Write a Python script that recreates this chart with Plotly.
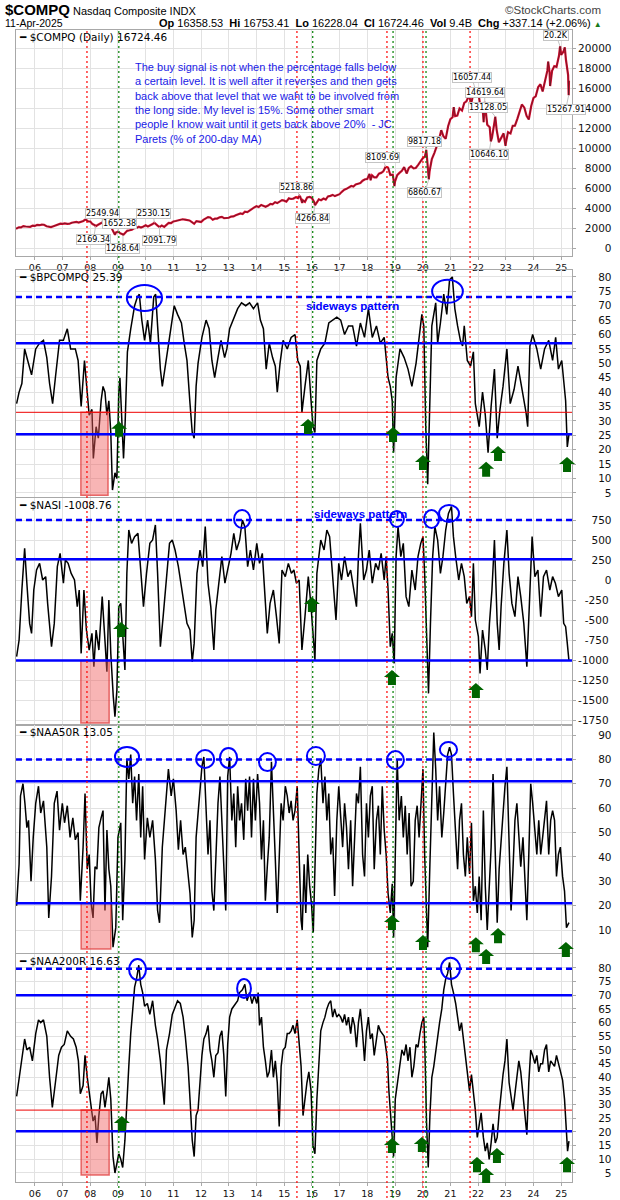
import plotly.graph_objects as go

# ---------------- data ----------------
compq_t = [2005.32, 2005.42, 2005.5, 2005.58, 2005.67, 2005.75, 2005.83, 2005.92,
           2006.0, 2006.08, 2006.17, 2006.25, 2006.33, 2006.42, 2006.5, 2006.58, 2006.67, 2006.75, 2006.83, 2006.92,
           2007.0, 2007.08, 2007.17, 2007.25, 2007.33, 2007.42, 2007.5, 2007.58, 2007.67, 2007.75, 2007.83, 2007.92,
           2008.0, 2008.08, 2008.17, 2008.19, 2008.25, 2008.33, 2008.43, 2008.5, 2008.58, 2008.67, 2008.75, 2008.83, 2008.89, 2008.92,
           2009.0, 2009.01, 2009.08, 2009.17, 2009.18, 2009.25, 2009.33, 2009.42, 2009.5, 2009.58, 2009.67, 2009.75, 2009.83, 2009.92,
           2010.0, 2010.08, 2010.17, 2010.25, 2010.31, 2010.33, 2010.42, 2010.5, 2010.58, 2010.67, 2010.75, 2010.83, 2010.92,
           2011.0, 2011.08, 2011.17, 2011.25, 2011.33, 2011.42, 2011.5, 2011.58, 2011.67, 2011.75, 2011.83, 2011.92,
           2012.0, 2012.08, 2012.17, 2012.25, 2012.33, 2012.42, 2012.5, 2012.58, 2012.67, 2012.75, 2012.83, 2012.92,
           2013.0, 2013.08, 2013.17, 2013.25, 2013.33, 2013.42, 2013.5, 2013.58, 2013.67, 2013.75, 2013.83, 2013.92,
           2014.0, 2014.08, 2014.17, 2014.25, 2014.33, 2014.42, 2014.5, 2014.58, 2014.67, 2014.75, 2014.83, 2014.92,
           2015.0, 2015.08, 2015.17, 2015.25, 2015.33, 2015.42, 2015.5, 2015.55, 2015.58, 2015.65, 2015.67, 2015.75, 2015.83, 2015.92,
           2016.0, 2016.08, 2016.11, 2016.17, 2016.25, 2016.33, 2016.42, 2016.5, 2016.58, 2016.67, 2016.75, 2016.83, 2016.92,
           2017.0, 2017.08, 2017.17, 2017.25, 2017.33, 2017.42, 2017.5, 2017.58, 2017.67, 2017.75, 2017.83, 2017.92,
           2018.0, 2018.08, 2018.12, 2018.17, 2018.25, 2018.33, 2018.42, 2018.5, 2018.58, 2018.66, 2018.75, 2018.83, 2018.92, 2018.98,
           2019.0, 2019.08, 2019.17, 2019.25, 2019.33, 2019.42, 2019.5, 2019.58, 2019.67, 2019.75, 2019.83, 2019.92,
           2020.0, 2020.08, 2020.13, 2020.17, 2020.22, 2020.25, 2020.33, 2020.42, 2020.5, 2020.58, 2020.67, 2020.75, 2020.83, 2020.92,
           2021.0, 2021.08, 2021.12, 2021.17, 2021.25, 2021.33, 2021.42, 2021.5, 2021.58, 2021.67, 2021.75, 2021.83, 2021.88, 2021.92,
           2022.0, 2022.08, 2022.17, 2022.2, 2022.24, 2022.33, 2022.42, 2022.46, 2022.5, 2022.58, 2022.62, 2022.67, 2022.75, 2022.83, 2022.92, 2022.99,
           2023.0, 2023.08, 2023.17, 2023.25, 2023.33, 2023.42, 2023.5, 2023.58, 2023.67, 2023.75, 2023.83, 2023.92,
           2024.0, 2024.08, 2024.17, 2024.25, 2024.33, 2024.42, 2024.5, 2024.53, 2024.58, 2024.6, 2024.67, 2024.75, 2024.83, 2024.92, 2024.96,
           2025.0, 2025.08, 2025.13, 2025.17, 2025.25, 2025.27, 2025.28]
compq_v = [1920, 2068, 2057, 2185, 2152, 2152, 2120, 2233,
           2205, 2306, 2281, 2340, 2323, 2179, 2172, 2091, 2184, 2258, 2367, 2432,
           2415, 2464, 2416, 2422, 2525, 2605, 2603, 2546, 2596, 2701, 2859, 2661,
           2652, 2389, 2271, 2169, 2279, 2413, 2550, 2293, 2326, 2368, 2092, 1721, 1316, 1536,
           1577, 1652, 1476, 1378, 1269, 1529, 1717, 1774, 1835, 1979, 2009, 2122, 2045, 2145,
           2269, 2147, 2238, 2398, 2530, 2461, 2257, 2092, 2255, 2114, 2368, 2507, 2498,
           2653, 2700, 2782, 2781, 2874, 2835, 2774, 2756, 2579, 2415, 2684, 2620,
           2605, 2814, 2967, 3092, 3046, 2827, 2935, 2940, 3067, 3116, 2977, 3010,
           3020, 3142, 3160, 3268, 3329, 3456, 3403, 3626, 3590, 3771, 3920, 4060,
           4177, 4104, 4308, 4199, 4115, 4243, 4408, 4370, 4580, 4493, 4631, 4792,
           4736, 4635, 4964, 4901, 4941, 5070, 4987, 5219, 5128, 4506, 4777, 4620, 5054, 5109,
           5007, 4614, 4267, 4558, 4870, 4775, 4948, 4843, 5162, 5213, 5312, 5189, 5324,
           5383, 5615, 5825, 5912, 6048, 6199, 6140, 6348, 6429, 6496, 6728, 6874,
           6903, 7411, 6777, 7273, 7063, 7066, 7442, 7510, 7672, 8110, 8046, 7306, 7331, 6192,
           6635, 7282, 7533, 7729, 8095, 7453, 8006, 8175, 7963, 7999, 8292, 8665,
           8973, 9151, 9817, 8567, 6861, 7700, 8890, 9490, 10058, 10745, 11775, 11168, 10912, 12199,
           12888, 13071, 14095, 13192, 13247, 13962, 13749, 14504, 14673, 15259, 14449, 15498, 16057, 15538,
           15645, 14240, 13751, 12581, 14620, 12335, 12081, 10646, 11029, 12391, 13128, 11816, 10576, 10988, 11468, 10213,
           10466, 11585, 11456, 12222, 12227, 12935, 13788, 14346, 14035, 13219, 12851, 14226,
           15011, 15164, 16092, 16379, 15658, 16735, 17733, 18647, 17599, 16200, 17714, 18189, 18095, 19218, 20174,
           19311, 19627, 20056, 18847, 17299, 15268, 16724.46]

bp_t = [2005.34, 2005.43, 2005.53, 2005.63, 2005.74, 2005.88, 2006.03, 2006.17, 2006.31, 2006.43, 2006.53, 2006.64,
        2006.74, 2006.89, 2007.03, 2007.17, 2007.29, 2007.46, 2007.56, 2007.67, 2007.79, 2007.86, 2007.96, 2008.06,
        2008.11, 2008.21, 2008.29, 2008.39, 2008.46, 2008.53, 2008.60, 2008.67, 2008.74, 2008.80, 2008.89, 2008.96,
        2009.03, 2009.07, 2009.13, 2009.20, 2009.26, 2009.34, 2009.46, 2009.60, 2009.70, 2009.77, 2009.86, 2009.96,
        2010.07, 2010.17, 2010.29, 2010.36, 2010.43, 2010.53, 2010.60, 2010.72, 2010.82, 2010.92, 2011.03, 2011.15,
        2011.29, 2011.39, 2011.49, 2011.60, 2011.68, 2011.75, 2011.82, 2011.89, 2012.03, 2012.18, 2012.29, 2012.39,
        2012.49, 2012.61, 2012.72, 2012.85, 2012.93, 2013.03, 2013.18, 2013.32, 2013.46, 2013.61, 2013.75, 2013.89,
        2014.04, 2014.14, 2014.25, 2014.35, 2014.46, 2014.58, 2014.68, 2014.75, 2014.85, 2014.96, 2015.11, 2015.25,
        2015.39, 2015.49, 2015.58, 2015.64, 2015.75, 2015.87, 2015.97, 2016.04, 2016.11, 2016.18, 2016.32, 2016.47,
        2016.61, 2016.75, 2016.90, 2017.04, 2017.18, 2017.32, 2017.47, 2017.61, 2017.75, 2017.90, 2018.04, 2018.18,
        2018.33, 2018.47, 2018.61, 2018.68, 2018.75, 2018.83, 2018.90, 2018.95, 2019.04, 2019.18, 2019.33, 2019.47,
        2019.61, 2019.76, 2019.87, 2019.97, 2020.04, 2020.11, 2020.18, 2020.26, 2020.33, 2020.47, 2020.54, 2020.64,
        2020.76, 2020.87, 2020.97, 2021.07, 2021.16, 2021.26, 2021.36, 2021.44, 2021.50, 2021.61, 2021.73, 2021.83,
        2021.90, 2022.04, 2022.16, 2022.26, 2022.36, 2022.47, 2022.59, 2022.69, 2022.79, 2022.90, 2023.04, 2023.16,
        2023.30, 2023.44, 2023.59, 2023.73, 2023.79, 2023.87, 2023.97, 2024.12, 2024.26, 2024.40, 2024.55, 2024.69,
        2024.80, 2024.90, 2025.02, 2025.09, 2025.16, 2025.22, 2025.28]
bp_v = [36, 40, 43, 55, 51, 46, 55, 57, 58, 52, 43, 36,
        45, 58, 58, 62, 55, 55, 51, 35, 51, 44, 32, 34,
        17, 28, 24, 37, 42, 40, 32, 37, 26, 6, 12, 10,
        40, 45, 30, 17, 30, 54, 62, 70, 73, 74, 65, 58,
        65, 57, 73, 74, 63, 48, 42, 50, 55, 63, 70, 67,
        64, 57, 51, 36, 26, 24, 42, 50, 59, 65, 62, 51,
        45, 52, 58, 52, 55, 62, 66, 69, 71, 70, 71, 69,
        71, 65, 62, 48, 57, 52, 49, 40, 50, 58, 55, 59,
        60, 51, 49, 33, 42, 51, 37, 28, 26, 51, 55, 57,
        64, 65, 66, 65, 60, 63, 63, 56, 64, 59, 69, 59,
        63, 57, 59, 52, 45, 42, 37, 19, 45, 55, 52, 48,
        42, 50, 59, 67, 63, 28, 8, 40, 63, 71, 57, 64,
        74, 67, 79, 80, 69, 63, 58, 56, 63, 51, 49, 54,
        36, 28, 40, 32, 19, 35, 48, 24, 34, 42, 55, 36,
        41, 49, 41, 33, 28, 56, 60, 55, 48, 55, 58, 51,
        59, 48, 51, 44, 37, 21, 25.39]

nasi_t = [2005.34, 2005.43, 2005.53, 2005.63, 2005.71, 2005.81, 2005.88, 2005.96, 2006.06, 2006.17, 2006.28, 2006.39,
          2006.46, 2006.53, 2006.60, 2006.70, 2006.81, 2006.91, 2007.03, 2007.10, 2007.20, 2007.31, 2007.43, 2007.53,
          2007.60, 2007.67, 2007.77, 2007.86, 2007.96, 2008.06, 2008.13, 2008.21, 2008.31, 2008.43, 2008.53, 2008.60,
          2008.67, 2008.74, 2008.83, 2008.89, 2008.96, 2009.03, 2009.10, 2009.17, 2009.25, 2009.32, 2009.39, 2009.49,
          2009.60, 2009.72, 2009.82, 2009.92, 2010.03, 2010.15, 2010.25, 2010.35, 2010.43, 2010.53, 2010.63, 2010.75,
          2010.86, 2010.96, 2011.06, 2011.18, 2011.29, 2011.39, 2011.49, 2011.60, 2011.68, 2011.75, 2011.85, 2011.96,
          2012.06, 2012.15, 2012.25, 2012.35, 2012.46, 2012.53, 2012.63, 2012.75, 2012.86, 2012.96, 2013.08, 2013.18,
          2013.28, 2013.39, 2013.49, 2013.58, 2013.68, 2013.78, 2013.89, 2014.01, 2014.11, 2014.21, 2014.29, 2014.39,
          2014.49, 2014.61, 2014.72, 2014.82, 2014.92, 2015.04, 2015.15, 2015.26, 2015.35, 2015.44, 2015.54, 2015.64,
          2015.75, 2015.87, 2015.97, 2016.04, 2016.11, 2016.18, 2016.32, 2016.44, 2016.54, 2016.64, 2016.75, 2016.87,
          2016.97, 2017.07, 2017.18, 2017.30, 2017.40, 2017.50, 2017.61, 2017.68, 2017.75, 2017.87, 2017.97, 2018.07,
          2018.18, 2018.30, 2018.40, 2018.50, 2018.61, 2018.68, 2018.75, 2018.83, 2018.90, 2018.97, 2019.04, 2019.11,
          2019.21, 2019.30, 2019.40, 2019.50, 2019.61, 2019.73, 2019.83, 2019.93, 2020.01, 2020.07, 2020.16, 2020.21,
          2020.28, 2020.36, 2020.44, 2020.54, 2020.64, 2020.73, 2020.83, 2020.93, 2021.04, 2021.11, 2021.19, 2021.30,
          2021.40, 2021.50, 2021.59, 2021.69, 2021.76, 2021.83, 2021.90, 2022.01, 2022.07, 2022.16, 2022.26, 2022.33,
          2022.41, 2022.50, 2022.59, 2022.69, 2022.76, 2022.83, 2022.93, 2023.04, 2023.12, 2023.22, 2023.33, 2023.44,
          2023.54, 2023.65, 2023.76, 2023.86, 2023.95, 2024.05, 2024.16, 2024.26, 2024.36, 2024.47, 2024.59, 2024.69,
          2024.79, 2024.90, 2025.02, 2025.09, 2025.16, 2025.22, 2025.28]
nasi_v = [-958, -750, -125, 396, -40, -542, -667, -125, 125, 208, 0, 42,
          -292, -542, -833, -542, 167, 333, -40, 250, 208, 83, 0, -333,
          -125, -917, -125, -625, -875, -667, -1083, -625, -875, -208, -750, -1146,
          -250, -917, -1458, -1708, -1375, -333, -292, -708, -1125, 83, 625, 458,
          542, 583, 83, -333, 83, 458, 500, 688, 83, -833, -458, 83,
          458, 500, 375, 167, -83, -292, -542, -625, -1021, -792, 83, 375,
          167, 667, -40, -333, -875, -375, -40, 292, -40, 125, 333, 583,
          375, 500, 750, 667, 167, 375, 125, 458, 208, 333, -125, -667,
          -292, -125, -458, -792, 125, 42, 208, 83, 125, -40, 0, -875,
          -458, 42, -333, -625, -1000, 83, 500, 375, 625, 542, 83, -500,
          208, 0, 292, 42, 125, -125, -333, 292, 708, 0, 125, 375,
          -40, 208, 125, 333, 0, 292, -125, -833, -667, -1042, 292, 667,
          292, 458, -208, -333, 125, -125, 292, 458, 542, 83, -958, -1417,
          -542, 292, 667, 500, 83, 292, 625, 833, 917, 542, 292, 0,
          208, 42, -292, -208, -458, 208, -500, -708, -1167, -625, -875, -1125,
          -542, -125, 500, -542, -875, -333, 208, 625, 83, -292, -458, 42,
          -208, -542, -1083, -125, 542, 42, 125, -458, 42, 125, -125, 42,
          -40, -208, -125, -542, -583, -792, -1008.76]

a50_t = [2005.34, 2005.43, 2005.48, 2005.57, 2005.64, 2005.71, 2005.77, 2005.86, 2005.94, 2006.03, 2006.13, 2006.21,
         2006.31, 2006.43, 2006.50, 2006.60, 2006.70, 2006.80, 2006.89, 2006.99, 2007.07, 2007.17, 2007.27, 2007.37,
         2007.46, 2007.56, 2007.64, 2007.74, 2007.81, 2007.89, 2007.96, 2008.03, 2008.10, 2008.17, 2008.24, 2008.31,
         2008.39, 2008.46, 2008.53, 2008.60, 2008.67, 2008.74, 2008.82, 2008.92, 2009.00, 2009.10, 2009.17, 2009.25,
         2009.32, 2009.39, 2009.46, 2009.53, 2009.60, 2009.67, 2009.75, 2009.82, 2009.89, 2009.96, 2010.06, 2010.15,
         2010.25, 2010.35, 2010.43, 2010.50, 2010.60, 2010.72, 2010.82, 2010.92, 2011.00, 2011.10, 2011.18, 2011.26,
         2011.35, 2011.43, 2011.53, 2011.60, 2011.68, 2011.75, 2011.82, 2011.89, 2011.96, 2012.03, 2012.10, 2012.18,
         2012.25, 2012.32, 2012.39, 2012.46, 2012.53, 2012.61, 2012.68, 2012.75, 2012.82, 2012.89, 2012.96, 2013.03,
         2013.11, 2013.18, 2013.25, 2013.32, 2013.39, 2013.46, 2013.54, 2013.61, 2013.68, 2013.75, 2013.82, 2013.89,
         2013.96, 2014.04, 2014.11, 2014.18, 2014.25, 2014.32, 2014.39, 2014.46, 2014.54, 2014.61, 2014.68, 2014.75,
         2014.82, 2014.89, 2014.96, 2015.04, 2015.11, 2015.18, 2015.25, 2015.32, 2015.39, 2015.47, 2015.54, 2015.61,
         2015.65, 2015.72, 2015.78, 2015.85, 2015.92, 2015.99, 2016.05, 2016.11, 2016.18, 2016.25, 2016.32, 2016.40,
         2016.47, 2016.54, 2016.61, 2016.68, 2016.75, 2016.82, 2016.90, 2016.97, 2017.04, 2017.11, 2017.18, 2017.25,
         2017.32, 2017.40, 2017.47, 2017.54, 2017.61, 2017.68, 2017.75, 2017.83, 2017.90, 2017.97, 2018.04, 2018.11,
         2018.18, 2018.25, 2018.33, 2018.40, 2018.47, 2018.54, 2018.61, 2018.68, 2018.75, 2018.83, 2018.90, 2018.95,
         2019.01, 2019.08, 2019.15, 2019.23, 2019.30, 2019.37, 2019.44, 2019.51, 2019.58, 2019.66, 2019.73, 2019.80,
         2019.87, 2019.94, 2020.01, 2020.07, 2020.13, 2020.18, 2020.26, 2020.33, 2020.40, 2020.47, 2020.54, 2020.61,
         2020.69, 2020.76, 2020.83, 2020.90, 2020.97, 2021.04, 2021.11, 2021.19, 2021.26, 2021.33, 2021.40, 2021.47,
         2021.54, 2021.61, 2021.69, 2021.76, 2021.83, 2021.90, 2021.97, 2022.04, 2022.11, 2022.19, 2022.26, 2022.33,
         2022.40, 2022.47, 2022.54, 2022.62, 2022.69, 2022.76, 2022.83, 2022.90, 2022.97, 2023.04, 2023.12, 2023.19,
         2023.26, 2023.33, 2023.40, 2023.47, 2023.54, 2023.62, 2023.69, 2023.76, 2023.83, 2023.90, 2023.97, 2024.05,
         2024.12, 2024.19, 2024.26, 2024.33, 2024.40, 2024.47, 2024.55, 2024.62, 2024.69, 2024.76, 2024.83, 2024.90,
         2024.97, 2025.05, 2025.12, 2025.19, 2025.28]
a50_v = [20, 37, 65, 70, 62, 52, 55, 30, 48, 62, 69, 58,
         63, 44, 15, 32, 62, 67, 51, 62, 54, 61, 48, 56,
         47, 50, 22, 44, 66, 35, 41, 21, 15, 36, 35, 52,
         56, 59, 18, 51, 35, 28, 3, 11, 48, 54, 14, 39,
         80, 72, 82, 62, 73, 55, 74, 48, 69, 39, 56, 48,
         55, 39, 18, 13, 44, 62, 76, 65, 72, 59, 43, 55,
         41, 44, 32, 25, 7, 14, 48, 58, 70, 77, 81, 55,
         41, 55, 26, 18, 41, 62, 73, 55, 41, 18, 73, 81,
         55, 66, 44, 69, 55, 62, 47, 72, 59, 73, 48, 72,
         55, 74, 62, 39, 55, 22, 36, 48, 79, 55, 39, 17,
         39, 62, 55, 69, 65, 58, 63, 55, 59, 69, 41, 14,
         10, 37, 17, 41, 28, 20, 9, 35, 66, 76, 80, 62,
         73, 55, 66, 41, 48, 24, 55, 69, 58, 44, 62, 52,
         35, 55, 28, 48, 66, 62, 77, 41, 32, 62, 48, 65,
         69, 35, 55, 61, 41, 69, 51, 41, 25, 17, 29, 7,
         48, 80, 55, 65, 48, 61, 41, 58, 28, 30, 55, 61,
         48, 63, 76, 41, 14, 3, 37, 62, 91, 76, 55, 69,
         48, 58, 72, 82, 85, 82, 66, 48, 35, 55, 62, 41,
         32, 48, 33, 54, 22, 28, 17, 32, 14, 59, 28, 10,
         28, 44, 74, 41, 13, 35, 47, 55, 69, 77, 45, 18,
         35, 55, 62, 48, 36, 48, 28, 14, 41, 70, 62, 51,
         41, 55, 41, 48, 55, 63, 41, 55, 59, 55, 32, 41,
         44, 32, 26, 11, 13.05]

a200_t = [2005.34, 2005.43, 2005.53, 2005.63, 2005.71, 2005.81, 2005.91, 2006.03, 2006.13, 2006.21, 2006.31, 2006.43,
          2006.53, 2006.63, 2006.74, 2006.86, 2006.96, 2007.06, 2007.17, 2007.29, 2007.39, 2007.49, 2007.57, 2007.64,
          2007.74, 2007.81, 2007.89, 2007.96, 2008.03, 2008.10, 2008.17, 2008.24, 2008.31, 2008.39, 2008.46, 2008.53,
          2008.60, 2008.67, 2008.74, 2008.82, 2008.89, 2008.96, 2009.03, 2009.10, 2009.17, 2009.25, 2009.32, 2009.39,
          2009.46, 2009.53, 2009.60, 2009.67, 2009.75, 2009.82, 2009.89, 2009.96, 2010.06, 2010.15, 2010.25, 2010.35,
          2010.43, 2010.53, 2010.60, 2010.67, 2010.75, 2010.86, 2010.96, 2011.06, 2011.15, 2011.25, 2011.35, 2011.43,
          2011.53, 2011.60, 2011.68, 2011.75, 2011.82, 2011.89, 2011.96, 2012.03, 2012.10, 2012.18, 2012.25, 2012.32,
          2012.39, 2012.46, 2012.53, 2012.61, 2012.68, 2012.75, 2012.82, 2012.89, 2012.96, 2013.03, 2013.11, 2013.18,
          2013.25, 2013.32, 2013.39, 2013.49, 2013.58, 2013.66, 2013.75, 2013.84, 2013.92, 2014.01, 2014.06, 2014.11,
          2014.18, 2014.25, 2014.32, 2014.39, 2014.46, 2014.54, 2014.61, 2014.68, 2014.75, 2014.82, 2014.89, 2014.96,
          2015.04, 2015.11, 2015.18, 2015.25, 2015.32, 2015.39, 2015.47, 2015.54, 2015.61, 2015.68, 2015.75, 2015.82,
          2015.89, 2015.97, 2016.04, 2016.11, 2016.18, 2016.25, 2016.32, 2016.40, 2016.47, 2016.54, 2016.61, 2016.68,
          2016.75, 2016.82, 2016.90, 2016.97, 2017.04, 2017.11, 2017.18, 2017.25, 2017.32, 2017.40, 2017.47, 2017.54,
          2017.61, 2017.68, 2017.75, 2017.83, 2017.90, 2017.97, 2018.04, 2018.11, 2018.18, 2018.25, 2018.33, 2018.40,
          2018.47, 2018.54, 2018.61, 2018.68, 2018.73, 2018.78, 2018.84, 2018.90, 2018.95, 2019.01, 2019.11, 2019.18,
          2019.25, 2019.33, 2019.40, 2019.47, 2019.54, 2019.61, 2019.68, 2019.76, 2019.83, 2019.90, 2019.97, 2020.04,
          2020.08, 2020.14, 2020.20, 2020.26, 2020.33, 2020.40, 2020.47, 2020.54, 2020.61, 2020.69, 2020.76, 2020.83,
          2020.90, 2020.97, 2021.04, 2021.11, 2021.19, 2021.26, 2021.33, 2021.40, 2021.47, 2021.54, 2021.61, 2021.69,
          2021.76, 2021.83, 2021.90, 2021.97, 2022.04, 2022.11, 2022.19, 2022.26, 2022.33, 2022.40, 2022.47, 2022.54,
          2022.62, 2022.69, 2022.76, 2022.83, 2022.90, 2022.97, 2023.04, 2023.12, 2023.19, 2023.26, 2023.33, 2023.40,
          2023.47, 2023.54, 2023.62, 2023.69, 2023.76, 2023.83, 2023.90, 2023.97, 2024.05, 2024.12, 2024.19, 2024.26,
          2024.33, 2024.40, 2024.47, 2024.55, 2024.62, 2024.69, 2024.76, 2024.83, 2024.90, 2024.97, 2025.05, 2025.12,
          2025.19, 2025.23, 2025.28]
a200_v = [33, 40, 48, 54, 50, 51, 46, 56, 61, 60, 61, 55,
          40, 29, 38, 48, 51, 52, 57, 55, 54, 51, 46, 34,
          37, 48, 40, 34, 28, 24, 26, 16, 26, 34, 35, 29,
          34, 40, 32, 11, 5, 8, 12, 10, 7, 17, 32, 44,
          56, 65, 73, 76, 81, 74, 71, 66, 67, 63, 68, 59,
          54, 46, 38, 30, 50, 56, 63, 66, 68, 67, 62, 55,
          44, 32, 17, 11, 26, 28, 38, 48, 54, 56, 59, 50,
          46, 40, 48, 49, 55, 57, 48, 33, 52, 62, 65, 66,
          67, 68, 71, 72, 74, 68, 71, 67, 70, 67, 71, 59,
          62, 51, 46, 40, 42, 50, 40, 46, 38, 22, 44, 50,
          51, 56, 56, 57, 59, 56, 61, 52, 44, 26, 33, 38,
          42, 35, 15, 12, 32, 46, 57, 60, 62, 65, 67, 68,
          62, 65, 62, 63, 62, 60, 63, 59, 62, 56, 62, 59,
          51, 60, 65, 56, 46, 57, 62, 54, 56, 48, 55, 59,
          57, 56, 55, 50, 46, 35, 26, 17, 11, 32, 40, 46,
          50, 48, 52, 46, 51, 40, 44, 52, 51, 56, 60, 62,
          50, 23, 7, 26, 40, 44, 50, 56, 60, 65, 72, 76,
          78, 82, 74, 71, 67, 62, 57, 60, 54, 50, 44, 35,
          41, 34, 28, 18, 23, 27, 18, 13, 16, 10, 16, 23,
          16, 18, 27, 35, 41, 46, 54, 38, 33, 28, 34, 40,
          46, 42, 33, 28, 19, 38, 50, 48, 45, 48, 42, 45,
          45, 50, 52, 42, 46, 45, 44, 48, 45, 42, 39, 32,
          18, 13, 16.63]

year_ticks = list(range(2006, 2026))
year_labels = ["06", "07", "08", "09", "10", "11", "12", "13", "14", "15",
               "16", "17", "18", "19", "20", "21", "22", "23", "24", "25"]

y_ticks = [list(range(0, 20001, 2000)), list(range(5, 81, 5)), list(range(-1750, 751, 250)),
           list(range(10, 91, 10)), list(range(5, 81, 5))]

legend_texts = ["$COMPQ (Daily) 16724.46", "$BPCOMPQ 25.39", "$NASI -1008.76", "$NAA50R 13.05", "$NAA200R 16.63"]

# price labels: (date, value, text, dx px, dy px)
price_labels = [(2008.43, 2550, "2549.94", 0, -9), (2008.19, 2169, "2169.34", -2, 13),
                (2009.01, 1652, "1652.38", 1, -8), (2009.18, 1269, "1268.64", 0, 13),
                (2010.31, 2530, "2530.15", -1, -9), (2010.50, 2092, "2091.79", 0, 13),
                (2015.55, 5219, "5218.86", -3, -8), (2016.11, 4267, "4266.84", -2, 13),
                (2018.66, 8110, "8109.69", -3, -9), (2020.13, 9817, "9817.18", -2, -8),
                (2020.22, 6861, "6860.67", -4, 13), (2021.88, 16057, "16057.44", -3, -10),
                (2022.24, 14620, "14619.64", 0, -9), (2022.62, 13128, "13128.05", -7, -9),
                (2022.46, 10646, "10646.10", -2, 13), (2024.96, 20174, "20.2K", -4, -11),
                (2025.27, 15268, "15267.91", -3, 14)]

# reference levels per panel: (panel, level, kind)
levels = [(2, 73, "dash"), (2, 57, "solid"), (2, 33, "red"), (2, 25.4, "solid"),
          (3, 750, "dash"), (3, 260, "solid"), (3, -1005, "solid"),
          (4, 80, "dash"), (4, 71, "solid"), (4, 21, "solid"),
          (5, 79.7, "dash"), (5, 70, "solid"), (5, 28, "red"), (5, 20.3, "solid")]

red_dates = [2007.88, 2015.46, 2018.71, 2020.01, 2021.71]
green_dates = [2009.03, 2016.03, 2018.93, 2020.12]

# shaded boxes (panel, t0, t1, v0, v1)
boxes = [(2, 2007.66, 2008.64, 4.2, 33), (3, 2007.66, 2008.68, -1787, -1005),
         (4, 2007.67, 2008.74, 2.2, 21), (5, 2007.67, 2008.68, 4.3, 28)]

# ellipses (panel, t0, t1, v0, v1)
ellipses = [(2, 2009.32, 2010.59, 68.2, 77.2), (2, 2020.34, 2021.45, 71.0, 79.0),
            (3, 2013.19, 2013.77, 650, 875), (3, 2018.82, 2019.32, 662, 862),
            (3, 2020.05, 2020.59, 650, 875), (3, 2020.59, 2021.31, 725, 937),
            (4, 2008.89, 2009.76, 76.9, 85.1), (4, 2011.82, 2012.47, 76.5, 83.8),
            (4, 2012.68, 2013.30, 76.5, 84.7), (4, 2014.09, 2014.70, 75.2, 82.6),
            (4, 2015.82, 2016.47, 77.7, 85.1), (4, 2018.71, 2019.32, 76.1, 83.4),
            (4, 2020.62, 2021.24, 81.0, 87.1),
            (5, 2009.40, 2010.01, 75.6, 83.3), (5, 2013.30, 2013.80, 69.0, 76.0),
            (5, 2020.66, 2021.35, 76.0, 83.7)]

# green buy arrows (panel, date, tip value)
arrows = [(2, 2009.04, 29.7), (2, 2015.86, 30.7), (2, 2018.93, 27.9), (2, 2020.01, 18.2),
          (2, 2022.29, 15.8), (2, 2022.72, 21.3), (2, 2025.21, 17.5),
          (3, 2009.11, -525), (3, 2016.00, -213), (3, 2018.89, -1125), (3, 2021.92, -1287),
          (4, 2018.89, 16.2), (4, 2020.01, 8.0), (4, 2021.92, 7.1), (4, 2022.29, 2.2),
          (4, 2022.72, 10.8), (4, 2025.17, 5.1),
          (5, 2009.14, 25.8), (5, 2018.89, 17.8), (5, 2019.97, 18.2), (5, 2021.96, 10.8),
          (5, 2022.29, 6.8), (5, 2022.68, 14.1), (5, 2025.21, 10.8)]

note_text = ("The buy signal is not when the percentage falls below<br>"
             "a certain level. It is well after it reverses and then gets<br>"
             "back above that level that we waht to be involved from<br>"
             "the long side. My level is 15%. Some other smart<br>"
             "people I know wait until it gets back above 20%  - JC<br>"
             "Parets (% of 200-day MA)")

# ---------------- layout geometry ----------------
W, H = 620, 1200
ML, MR, MT, MB = 16, 48, 30, 18
PW, PH = W - ML - MR, H - MT - MB
X0, X1 = 2005.318, 2025.39
panel_px = [(30, 256), (270, 497), (498, 725), (725, 953), (954, 1182)]
domains = [[(H - MB - b) / PH, (H - MB - t) / PH] for t, b in panel_px]
ranges = [[-800, 21800], [3.6, 82.4], [-1812, 1025], [0.6, 94.1], [1.7, 85.1]]

BLUE = "#0000ff"
GRID = "#e2e2e2"
BORDER = "#a8a8a8"
GREEN = "#006400"
YTICKFONT = dict(family="DejaVu Sans", size=10.5, color="#111")
XTICKFONT = dict(family="DejaVu Sans", size=9.5, color="#111")
FS = "\u2007"  # figure space (digit width) used to right-align tick labels


def ax(k):
    return ("x" if k == 1 else f"x{k}"), ("y" if k == 1 else f"y{k}")


def xpap(t):
    return (t - X0) / (X1 - X0)


def ypap(k, v):
    d0, d1 = domains[k - 1]
    r0, r1 = ranges[k - 1]
    return d0 + (v - r0) / (r1 - r0) * (d1 - d0)


def pypx(p):
    return (H - MB - p) / PH


def pxpx(p):
    return (p - ML) / PW


def padded(vals):
    out = []
    for v in vals:
        s = str(v)
        n = 5 - len(s) + (0.3 if s.startswith("-") else 0)
        out.append(FS * max(0, int(round(n))) + s)
    return out


fig = go.Figure()

# price panel: red line with a thin black line on top
fig.add_trace(go.Scatter(x=compq_t, y=compq_v, mode="lines", line=dict(color="#dc0a2e", width=2.2),
                         xaxis="x", yaxis="y", showlegend=False, hoverinfo="skip"))
fig.add_trace(go.Scatter(x=compq_t, y=compq_v, mode="lines", line=dict(color="#222", width=0.5),
                         xaxis="x", yaxis="y", showlegend=False, hoverinfo="skip"))

for k, (tt, vv) in zip([2, 3, 4, 5], [(bp_t, bp_v), (nasi_t, nasi_v), (a50_t, a50_v), (a200_t, a200_v)]):
    xa, ya = ax(k)
    fig.add_trace(go.Scatter(x=tt, y=vv, mode="lines", line=dict(color="black", width=1.5),
                             xaxis=xa, yaxis=ya, showlegend=False, hoverinfo="skip"))

layout_axes = {}
for k in range(1, 6):
    xa, ya = ax(k)
    xname = "xaxis" if k == 1 else f"xaxis{k}"
    yname = "yaxis" if k == 1 else f"yaxis{k}"
    xd = dict(domain=[0, 1], range=[X0, X1], tickvals=year_ticks, ticktext=year_labels,
              showgrid=True, gridcolor=GRID, gridwidth=1, zeroline=False,
              showline=True, linecolor=BORDER, linewidth=1, mirror=True,
              ticks="outside" if k in (1, 5) else "", ticklen=3, tickcolor=BORDER,
              showticklabels=(k in (1, 5)), tickfont=XTICKFONT, anchor=ya, fixedrange=True,
              automargin=False)
    if k > 1:
        xd["matches"] = "x"
    yd = dict(domain=domains[k - 1], range=ranges[k - 1], tickvals=y_ticks[k - 1],
              ticktext=padded(y_ticks[k - 1]), side="right",
              showgrid=True, gridcolor=GRID, gridwidth=1, zeroline=False,
              showline=True, linecolor=BORDER, linewidth=1, mirror=True,
              ticks="outside", ticklen=3, tickcolor=BORDER, tickfont=YTICKFONT, anchor=xa,
              fixedrange=True, automargin=False)
    layout_axes[xname] = xd
    layout_axes[yname] = yd

shapes = []
for k, t0, t1, v0, v1 in boxes:
    xa, ya = ax(k)
    shapes.append(dict(type="rect", xref=xa, yref=ya, x0=t0, x1=t1, y0=v0, y1=v1,
                       fillcolor="rgba(240,90,90,0.45)", line=dict(color="rgba(225,70,70,0.8)", width=1.5),
                       layer="above"))
for k, lv, kind in levels:
    xa, ya = ax(k)
    if kind == "red":
        ln = dict(color="#ee0000", width=1)
    elif kind == "dash":
        ln = dict(color=BLUE, width=2.5, dash="6px,4px")
    else:
        ln = dict(color=BLUE, width=2.5)
    shapes.append(dict(type="line", xref="paper", yref=ya, x0=0, x1=1, y0=lv, y1=lv, line=ln, layer="above"))
for t in red_dates:
    shapes.append(dict(type="line", xref="paper", yref="paper", x0=xpap(t), x1=xpap(t), y0=pypx(1198), y1=1,
                       line=dict(color="#ff0000", width=1.2, dash="2px,3px"), layer="above"))
for t in green_dates:
    shapes.append(dict(type="line", xref="paper", yref="paper", x0=xpap(t), x1=xpap(t), y0=pypx(1198), y1=1,
                       line=dict(color="#008000", width=1.2, dash="2px,3px"), layer="above"))
for k, t0, t1, v0, v1 in ellipses:
    xa, ya = ax(k)
    shapes.append(dict(type="circle", xref=xa, yref=ya, x0=t0, x1=t1, y0=v0, y1=v1,
                       line=dict(color=BLUE, width=2), layer="above"))
hw, sw, hh, th = 8 / PW, 4 / PW, 7 / PH, 15 / PH
for k, t, v in arrows:
    cx, ty = xpap(t), ypap(k, v)
    pts = [(cx, ty), (cx + hw, ty - hh), (cx + sw, ty - hh), (cx + sw, ty - th),
           (cx - sw, ty - th), (cx - sw, ty - hh), (cx - hw, ty - hh)]
    path = "M " + " L ".join(f"{x:.5f},{y:.5f}" for x, y in pts) + " Z"
    shapes.append(dict(type="path", xref="paper", yref="paper", path=path,
                       fillcolor=GREEN, line=dict(width=0), layer="above"))

ARIAL = "Liberation Sans, Arial"
annotations = []
annotations.append(dict(xref="paper", yref="paper", x=pxpx(3), y=pypx(10), xanchor="left", yanchor="middle",
                        text="<b>$COMPQ</b>", showarrow=False,
                        font=dict(family=ARIAL, size=15, color="black")))
annotations.append(dict(xref="paper", yref="paper", x=pxpx(71), y=pypx(11), xanchor="left", yanchor="middle",
                        text="Nasdaq Composite INDX", showarrow=False,
                        font=dict(family=ARIAL, size=11, color="black")))
annotations.append(dict(xref="paper", yref="paper", x=pxpx(603), y=pypx(10), xanchor="right", yanchor="middle",
                        text="©StockCharts.com", showarrow=False,
                        font=dict(family=ARIAL, size=11.5, color="#444")))
annotations.append(dict(xref="paper", yref="paper", x=pxpx(3), y=pypx(23), xanchor="left", yanchor="middle",
                        text="11-Apr-2025", showarrow=False,
                        font=dict(family=ARIAL, size=10.5, color="black")))
sp = "&nbsp;&nbsp;"
hdr = ("<b>Op</b> 16358.53" + sp + "<b>Hi</b> 16753.41" + sp + "<b>Lo</b> 16228.04" + sp +
       "<b>Cl</b> 16724.46" + sp + "<b>Vol</b> 9.4B" + sp + "<b>Chg</b> +337.14 (+2.06%) "
       "<span style='color:#1a7a1a;font-size:8px'>▲</span>")
annotations.append(dict(xref="paper", yref="paper", x=pxpx(604), y=pypx(23), xanchor="right", yanchor="middle",
                        text=hdr, showarrow=False,
                        font=dict(family=ARIAL, size=11, color="black")))
for k, txt in enumerate(legend_texts, start=1):
    top = panel_px[k - 1][0]
    annotations.append(dict(xref="paper", yref="paper", x=pxpx(17), y=pypx(top + 7), xanchor="left",
                            yanchor="middle", text="━ " + txt, showarrow=False,
                            font=dict(family="DejaVu Sans", size=10.5, color="black")))
for t, v, txt, dx, dy in price_labels:
    annotations.append(dict(xref="x", yref="y", x=t, y=v, text=txt, showarrow=True, ax=dx, ay=dy,
                            arrowhead=0, arrowwidth=1, arrowcolor="#c4c4c4", standoff=0,
                            bgcolor="white", bordercolor="#c4c4c4", borderwidth=1, borderpad=0,
                            font=dict(family="DejaVu Sans", size=8, color="black")))
annotations.append(dict(xref="paper", yref="paper", x=pxpx(133), y=pypx(59), xanchor="left", yanchor="top",
                        align="left", text=note_text, showarrow=False,
                        font=dict(family=ARIAL, size=11, color="#1a1ae6")))
annotations.append(dict(xref="x2", yref="y2", x=2017.45, y=70, text="<b>sideways pattern</b>", showarrow=False,
                        font=dict(family=ARIAL, size=11.5, color=BLUE)))
annotations.append(dict(xref="x3", yref="y3", x=2017.77, y=820, text="<b>sideways pattern</b>", showarrow=False,
                        font=dict(family=ARIAL, size=11.5, color=BLUE)))

fig.update_layout(width=W, height=H, margin=dict(l=ML, r=MR, t=MT, b=MB, pad=0),
                  paper_bgcolor="white", plot_bgcolor="white", showlegend=False,
                  shapes=shapes, annotations=annotations, **layout_axes)

fig.write_html("out.html", config={"displayModeBar": False, "staticPlot": True},
               post_script="document.body.style.margin='0px';document.body.style.overflow='hidden';")
